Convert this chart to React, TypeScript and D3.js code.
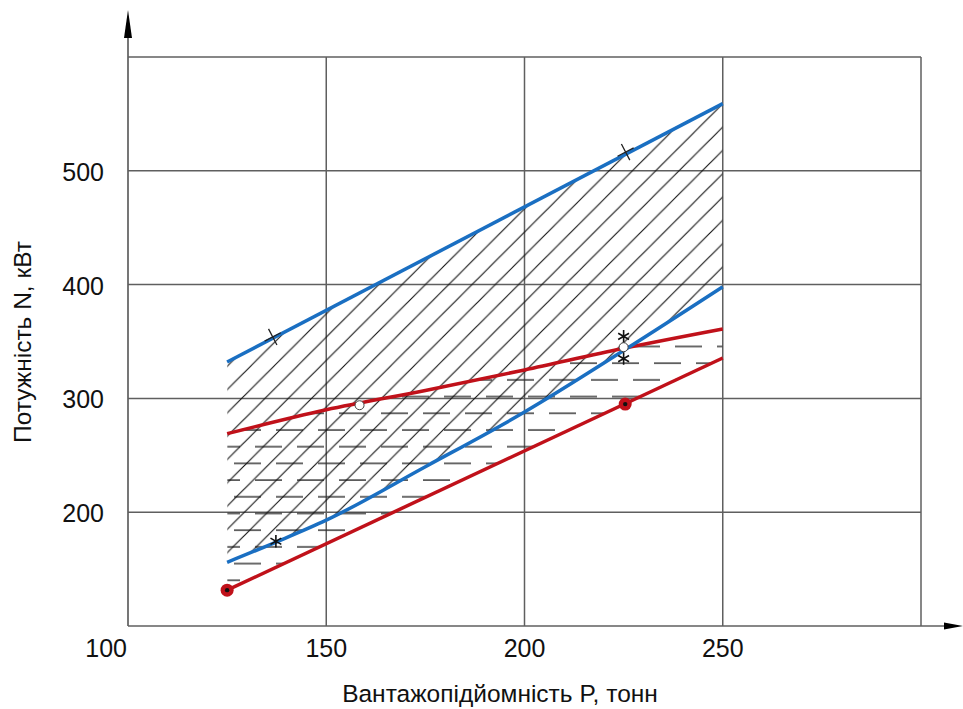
import React from "react";
import * as d3 from "d3";

// x ticks (load capacity, t) and y ticks (power, kW)
const xTicks = [100, 150, 200, 250];
const yTicks = [200, 300, 400, 500];
const xGrid = [150, 200, 250, 300];
const yGrid = [200, 300, 400, 500, 600];

// curves: [P, N]
const blueUpper = [
  [125, 332],
  [250, 559],
];
const blueLower = [
  [125, 156],
  [137.5, 174],
  [150, 193],
  [175, 240],
  [200, 288],
  [225, 342],
  [250, 398],
];
const redUpper = [
  [125, 269],
  [150, 290],
  [175, 307],
  [200, 325],
  [225, 344],
  [250, 361],
];
const redLower = [
  [125, 131.5],
  [250, 335.5],
];

// point markers
const crossMarks = [
  [136.5, 354],
  [225.5, 516.5],
];
const starMarks = [
  [137.3, 174.5],
  [225, 354.5],
  [225, 335],
];
const ringMarks = [
  [158.4, 294],
  [225, 345],
];
const dotMarks = [
  [125, 131.5],
  [225.4, 295],
];

const W = 963;
const H = 709;
const BLUE = "#1a6fc2";
const RED = "#c0111a";
const GRID = "#5f5f5f";
const FONT = "'Liberation Sans', Arial, sans-serif";

const App = () => {
  const x = d3.scaleLinear().domain([100, 300]).range([128, 921]);
  const y = d3.scaleLinear().domain([100, 600]).range([626, 57]);

  const line = d3
    .line<number[]>()
    .x((d) => x(d[0]))
    .y((d) => y(d[1]))
    .curve(d3.curveMonotoneX);

  // closed region below / above a curve, for clipping the hatching
  const below = (pts: number[][]) =>
    line(pts) +
    `L${x(pts[pts.length - 1][0])},${y(100)}L${x(pts[0][0])},${y(100)}Z`;
  const above = (pts: number[][]) =>
    line(pts) +
    `L${x(pts[pts.length - 1][0])},${y(600)}L${x(pts[0][0])},${y(600)}Z`;

  const sym = (type: any, size: number) => d3.symbol().type(type).size(size)();

  const blueAngle =
    (Math.atan2(
      y(blueUpper[1][1]) - y(blueUpper[0][1]),
      x(blueUpper[1][0]) - x(blueUpper[0][0])
    ) *
      180) /
    Math.PI;

  return (
    <svg
      width={W}
      height={H}
      style={{ position: "absolute", left: 0, top: 0, display: "block" }}
    >
      <defs>
        <pattern
          id="diag"
          patternUnits="userSpaceOnUse"
          width={23.3}
          height={23.3}
          x={11}
          y={0}
        >
          <line x1={0} y1={23.3} x2={23.3} y2={0} stroke="#111" strokeWidth={1.1} />
          <line x1={-2} y1={2} x2={2} y2={-2} stroke="#111" strokeWidth={1.1} />
          <line x1={21.3} y1={25.3} x2={25.3} y2={21.3} stroke="#111" strokeWidth={1.1} />
        </pattern>
        <pattern
          id="dash"
          patternUnits="userSpaceOnUse"
          width={42}
          height={33.4}
          x={234}
          y={426}
        >
          <line x1={0} y1={4} x2={27} y2={4} stroke="#2e2e2e" strokeWidth={1.4} />
          <line x1={21} y1={20.7} x2={48} y2={20.7} stroke="#2e2e2e" strokeWidth={1.4} />
          <line x1={-21} y1={20.7} x2={6} y2={20.7} stroke="#2e2e2e" strokeWidth={1.4} />
        </pattern>
        <clipPath id="belowBlue">
          <path d={below(blueUpper)} />
        </clipPath>
        <clipPath id="aboveBlue">
          <path d={above(blueLower)} />
        </clipPath>
        <clipPath id="belowRed">
          <path d={below(redUpper)} />
        </clipPath>
        <clipPath id="aboveRed">
          <path d={above(redLower)} />
        </clipPath>
      </defs>

      <rect width={W} height={H} fill="#fff" />

      {/* grid */}
      {xGrid.map((p) => (
        <line
          key={"gx" + p}
          x1={x(p)}
          x2={x(p)}
          y1={y(100)}
          y2={y(600)}
          stroke={GRID}
          strokeWidth={1.5}
        />
      ))}
      {yGrid.map((n) => (
        <line
          key={"gy" + n}
          x1={x(100)}
          x2={x(300)}
          y1={y(n)}
          y2={y(n)}
          stroke={GRID}
          strokeWidth={1.5}
        />
      ))}

      {/* hatching */}
      <g clipPath="url(#belowRed)">
        <g clipPath="url(#aboveRed)">
          <rect
            x={x(125)}
            y={y(600)}
            width={x(250) - x(125)}
            height={y(100) - y(600)}
            fill="url(#dash)"
          />
        </g>
      </g>
      <g clipPath="url(#belowBlue)">
        <g clipPath="url(#aboveBlue)">
          <rect
            x={x(125)}
            y={y(600)}
            width={x(250) - x(125)}
            height={y(100) - y(600)}
            fill="url(#diag)"
          />
        </g>
      </g>

      {/* curves */}
      <path d={line(redLower)!} fill="none" stroke={RED} strokeWidth={3.5} />
      <path d={line(redUpper)!} fill="none" stroke={RED} strokeWidth={3.5} />
      <path d={line(blueLower)!} fill="none" stroke={BLUE} strokeWidth={3.5} />
      <path d={line(blueUpper)!} fill="none" stroke={BLUE} strokeWidth={3.5} />

      {/* markers */}
      {crossMarks.map((d, i) => (
        <path
          key={"c" + i}
          d={sym(d3.symbolPlus, 110)!}
          transform={`translate(${x(d[0])},${y(d[1])}) rotate(${blueAngle})`}
          fill="none"
          stroke="#222"
          strokeWidth={1.3}
        />
      ))}
      {starMarks.map((d, i) => (
        <path
          key={"s" + i}
          d={sym(d3.symbolAsterisk, 110)!}
          transform={`translate(${x(d[0])},${y(d[1])})`}
          fill="none"
          stroke="#111"
          strokeWidth={1.6}
        />
      ))}
      {ringMarks.map((d, i) => (
        <circle
          key={"r" + i}
          cx={x(d[0])}
          cy={y(d[1])}
          r={4.5}
          fill="#fff"
          stroke="#444"
          strokeWidth={1}
        />
      ))}
      {dotMarks.map((d, i) => (
        <g key={"d" + i} transform={`translate(${x(d[0])},${y(d[1])})`}>
          <circle r={6.5} fill={RED} />
          <circle r={2.2} fill="#111" />
        </g>
      ))}

      {/* axes with arrows */}
      <line x1={x(100)} x2={x(100)} y1={y(100)} y2={30} stroke={GRID} strokeWidth={1.7} />
      <path
        d={`M${x(100)},10 L${x(100) + 4},38 L${x(100) - 4},38 Z`}
        fill="#000"
      />
      <line x1={x(100)} x2={948} y1={y(100)} y2={y(100)} stroke={GRID} strokeWidth={1.7} />
      <path
        d={`M963,${y(100)} L944,${y(100) - 3.5} L944,${y(100) + 3.5} Z`}
        fill="#000"
      />

      {/* tick labels */}
      {xTicks.map((p, i) => (
        <text
          key={"tx" + p}
          x={i === 0 ? x(p) - 1 : x(p)}
          y={657}
          textAnchor={i === 0 ? "end" : "middle"}
          fontFamily={FONT}
          fontSize={25}
          fill="#111"
        >
          {p}
        </text>
      ))}
      {yTicks.map((n) => (
        <text
          key={"ty" + n}
          x={104}
          y={y(n) + 10}
          textAnchor="end"
          fontFamily={FONT}
          fontSize={25}
          fill="#111"
        >
          {n}
        </text>
      ))}

      {/* axis titles */}
      <text
        x={500}
        y={702}
        textAnchor="middle"
        fontFamily={FONT}
        fontSize={24.5}
        fill="#111"
      >
        Вантажопідйомність P, тонн
      </text>
      <text
        transform={`translate(31,342) rotate(-90)`}
        textAnchor="middle"
        fontFamily={FONT}
        fontSize={24.5}
        fill="#111"
      >
        Потужність N, кВт
      </text>
    </svg>
  );
};

export default App;
